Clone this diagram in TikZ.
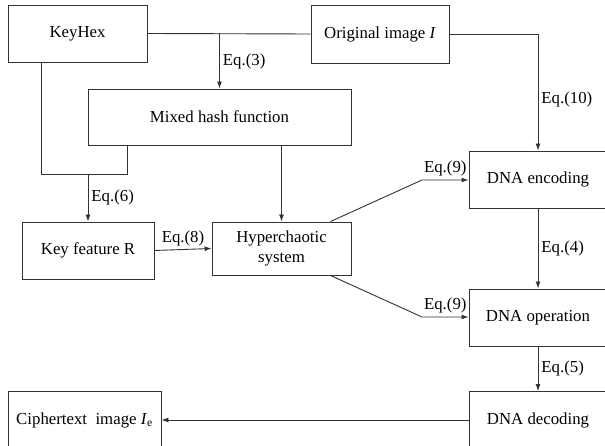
\documentclass[tikz,border=0pt]{standalone}
\usepackage{fontspec}
\setmainfont{Liberation Serif}
\usetikzlibrary{arrows.meta}

\tikzset{
    box/.style={draw=black!80, line width=0.9pt, minimum width=138, minimum height=57,
        align=center, inner sep=2pt, font=\fontsize{16.8}{20}\selectfont},
    flow/.style={draw=black!80, line width=0.9pt},
    arr/.style={flow, -{Latex[length=7pt,width=5pt]}},
    eq/.style={font=\fontsize{16.8}{20}\selectfont, inner sep=3pt},
}

\begin{document}
\begin{tikzpicture}[x=1pt, y=-1pt]
    \useasboundingbox (0,0) rectangle (605,446);
    \clip (0,0) rectangle (605,446);

    % boxes
    \node[box, minimum width=139] (keyhex) at (77.5,33.5) {KeyHex};
    \node[box, minimum height=58] (orig) at (380,34) {Original image \textit{I}};
    \node[box, minimum width=263, minimum height=56] (hash) at (219.5,117) {Mixed hash function};
    \node[box, minimum width=132] (keyfeat) at (88,250.5) {Key feature R};
    \node[box, minimum width=139, minimum height=53] (hyper) at (281.5,248.5) {Hyperchaotic\\system};
    \node[box] (enc) at (538,179.5) {DNA encoding};
    \node[box] (oper) at (538,317.5) {DNA operation};
    \node[box] (dec) at (538,420) {DNA decoding};
    \node[box, minimum width=153] (cipher) at (84.5,420) {Ciphertext\ \ image \textit{I}\textsubscript{e}};

    % helper points
    \coordinate (j1) at (41,174);
    \coordinate (j2) at (127,174);
    \coordinate (b1) at (422,180);
    \coordinate (b2) at (422,317);

    % connectors
    \draw[flow] (keyhex.east) -- (orig.west);
    \draw[arr] (keyhex.east -| hash.north) -- node[eq, right] {Eq.(3)} (hash.north);
    \draw[flow] (keyhex.south -| j1) -- (j1) -- (j2) -- (j2 |- hash.south);
    \draw[arr] (keyfeat.north |- j1) -- node[eq, right] {Eq.(6)} (keyfeat.north);
    \draw[arr] (hash.south -| hyper.north) -- (hyper.north);
    \draw[arr] (keyfeat.east) -- node[eq, above] {Eq.(8)} (hyper.west);
    \draw[arr] (orig.east) -| node[eq, right, pos=0.78] {Eq.(10)} (enc.north);
    \draw[arr] ([xshift=-21]hyper.north east) -- (b1) -- node[eq, above] {Eq.(9)} (b1 -| enc.west);
    \draw[arr] ([xshift=-21]hyper.south east) -- (b2) -- node[eq, above] {Eq.(9)} (b2 -| oper.west);
    \draw[arr] (enc.south) -- node[eq, right] {Eq.(4)} (oper.north);
    \draw[arr] (oper.south) -- node[eq, right] {Eq.(5)} (dec.north);
    \draw[arr] (dec.west) -- (cipher.east);
\end{tikzpicture}
\end{document}
